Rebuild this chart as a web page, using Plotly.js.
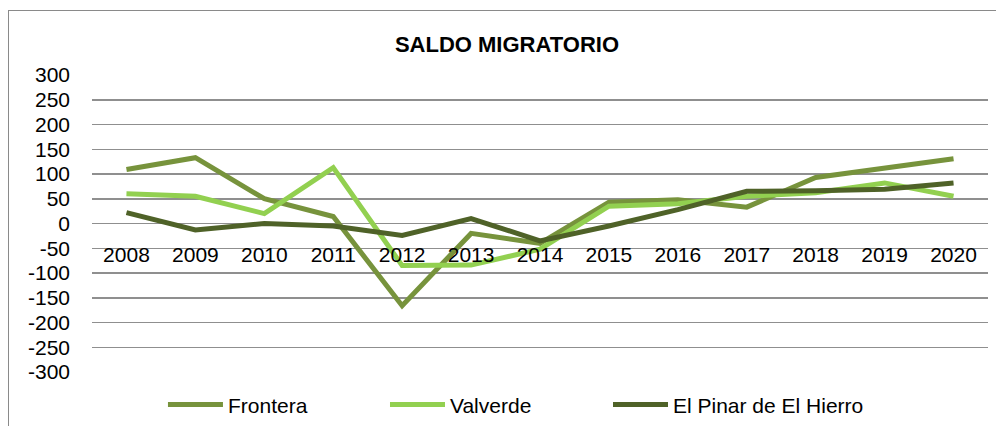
<!DOCTYPE html>
<html>
<head>
<meta charset="utf-8">
<script src="https://cdn.plot.ly/plotly-3.0.1.min.js"></script>
<style>
html,body{margin:0;padding:0;background:#fff;}
#wrap{position:relative;width:996px;height:426px;overflow:hidden;}
#chart{width:996px;height:426px;}
#frame{position:absolute;left:8px;top:10px;width:1000px;height:430px;border:1px solid #8a8a8a;pointer-events:none;}
</style>
</head>
<body>
<div id="wrap"><div id="chart"></div><div id="frame"></div></div>
<script>
var years = ["2008","2009","2010","2011","2012","2013","2014","2015","2016","2017","2018","2019","2020"];
var frontera = [109, 133, 50, 14, -166, -20, -40, 43, 48, 33, 93, 112, 131];
var valverde = [60, 55, 20, 113, -85, -84, -52, 35, 40, 55, 62, 82, 55];
var elPinar = [22, -13, 0, -5, -24, 10, -35, -5, 28, 65, 66, 69, 82];
var yTicks = [300, 250, 200, 150, 100, 50, 0, -50, -100, -150, -200, -250, -300];

var font = "Liberation Sans, Arial, sans-serif";
function tr(name, vals, color, lg){
  return {x: years, y: vals, name: name, type: "scatter", mode: "lines", legend: lg,
    line: {color: color, width: 5, shape: "linear"}, hoverinfo: "skip"};
}
var data = [
  tr("Frontera", frontera, "#77933C", "legend"),
  tr("Valverde", valverde, "#92D050", "legend2"),
  tr("El Pinar de El Hierro", elPinar, "#4F6228", "legend3")
];
function lg(x){
  return {orientation: "h", x: x, xanchor: "left", y: -0.111, yanchor: "middle",
    font: {size: 21}, itemwidth: 55, bgcolor: "rgba(0,0,0,0)"};
}
var layout = {
  width: 996, height: 426,
  margin: {l: 92, r: 8, t: 75, b: 54, autoexpand: false},
  paper_bgcolor: "#fff", plot_bgcolor: "#fff",
  font: {family: font, size: 21, color: "#000"},
  title: {text: "<b>SALDO MIGRATORIO</b>", font: {family: font, size: 22, color: "#000"},
    x: 0.509, xanchor: "center", y: 0.896, yanchor: "middle"},
  xaxis: {type: "category", range: [-0.5, 12.5], anchor: "free", position: 0.5, showgrid: false, showline: false,
    zeroline: false, ticks: "", ticklabelstandoff: 16, tickfont: {size: 21}, fixedrange: true},
  yaxis: {range: [-300, 300], tickvals: yTicks, ticktext: yTicks.map(String), showgrid: true,
    gridcolor: "#8f8f8f", gridwidth: 1.5, zeroline: false, showline: false, ticks: "",
    ticklabelstandoff: 21, tickfont: {size: 21}, fixedrange: true},
  showlegend: true,
  legend: lg(0.0792),
  legend2: lg(0.3270),
  legend3: lg(0.5759)
};
Plotly.newPlot("chart", data, layout, {displayModeBar: false, staticPlot: true});
</script>
</body>
</html>
